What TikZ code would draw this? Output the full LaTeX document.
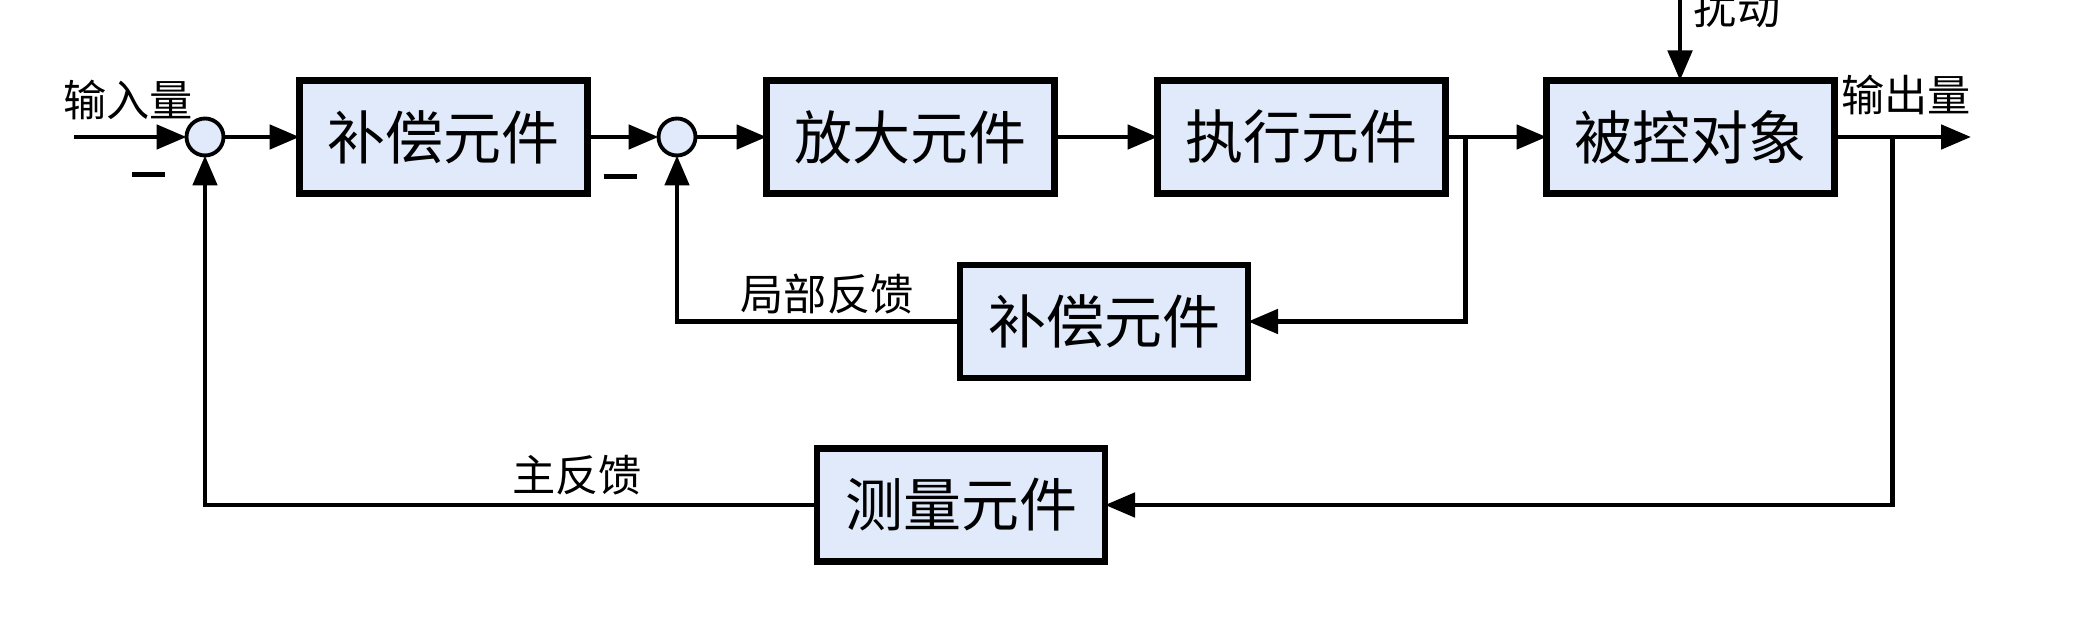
\documentclass[tikz,border=0pt]{standalone}
\usepackage{fontspec}
\setmainfont{Noto Sans CJK SC}
\usetikzlibrary{positioning,arrows.meta,calc}

\definecolor{blockblue}{RGB}{225,234,250}

\tikzset{
  block/.style={draw, line width=1.8pt, fill=blockblue, minimum width=2.88cm,
    minimum height=1.13cm, inner sep=0pt, outer sep=0pt, font=\fontsize{16.5}{18}\selectfont},
  sum/.style={circle, draw, line width=1.1pt, fill=blockblue, minimum size=0.37cm,
    inner sep=0pt, outer sep=0pt},
  sig/.style={-{Triangle[length=0.30cm,width=0.24cm]}, line width=1.4pt},
  lbl/.style={font=\fontsize{12.3}{14}\selectfont, inner sep=0pt},
  negsign/.style={inner sep=0pt},
}

\begin{document}
\begin{tikzpicture}
  \useasboundingbox (0,0) rectangle (20.94,-6.30);

  % forward path
  \node[sum] (sumA) at (2.05,-1.37) {};
  \node[block, right=0.76cm of sumA] (comp) {补偿元件};
  \node[sum, right=0.71cm of comp] (sumB) {};
  \node[block, right=0.71cm of sumB] (amp) {放大元件};
  \node[block, right=1.03cm of amp] (act) {执行元件};
  \node[block, right=1.01cm of act] (plant) {被控对象};

  % feedback blocks
  \node[block] (fbcomp) at (11.04,-3.215) {补偿元件};
  \node[block] (meas) at (9.61,-5.05) {测量元件};

  % helpers
  \coordinate (start) at (0.74,-1.37);
  \coordinate (outEnd) at (19.71,-1.37);
  \coordinate (distTop) at (16.80,0.05);
  \coordinate (branchA) at ($(act.east)+(0.2,0)$);
  \coordinate (branchB) at ($(plant.east)+(0.58,0)$);

  \draw[sig] (start) -- (sumA);
  \draw[sig] (sumA) -- (comp);
  \draw[sig] (comp) -- (sumB);
  \draw[sig] (sumB) -- (amp);
  \draw[sig] (amp) -- (act);
  \draw[sig] (act) -- (plant);
  \draw[sig] (plant) -- (outEnd);
  \draw[sig] (distTop) -- (distTop |- plant.north);

  % local feedback
  \draw[sig] (branchA) |- (fbcomp);
  \draw[sig] (fbcomp) -| (sumB);

  % main feedback
  \draw[sig] (branchB) |- (meas);
  \draw[sig] (meas) -| (sumA);

  % labels
  \node[lbl] (inLbl) at (1.28,-1.00) {输入量};
  \node[lbl] (outLbl) at (19.06,-0.95) {输出量};
  \node[lbl] (distLbl) at (17.37,-0.08) {扰动};
  \node[lbl] (localLbl) at (8.27,-2.94) {局部反馈};
  \node[lbl] (mainLbl) at (5.77,-4.75) {主反馈};
  \node[negsign] (minA) at (1.48,-1.75) {\rule{0.33cm}{0.05cm}};
  \node[negsign] (minB) at (6.20,-1.77) {\rule{0.33cm}{0.05cm}};
\end{tikzpicture}
\end{document}
